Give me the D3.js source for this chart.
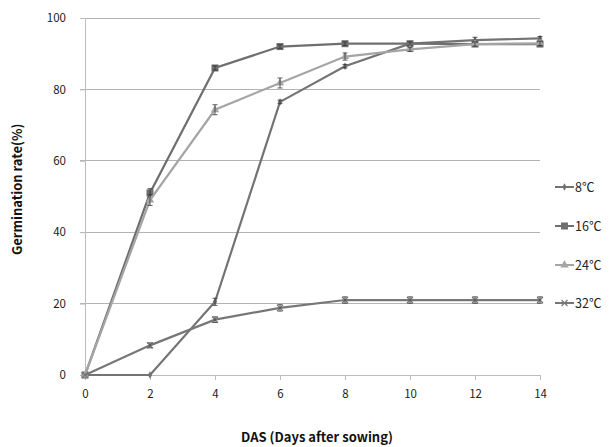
<!DOCTYPE html>
<html>
<head>
<meta charset="utf-8">
<script src="https://cdn.jsdelivr.net/npm/d3@7"></script>
<style>
  body { margin: 0; background: #fff; }
  text { font-family: "Noto Sans CJK KR", "Open Sans", sans-serif; }
</style>
</head>
<body>
<div id="wrapper"></div>
<script>
const days = [0, 2, 4, 6, 8, 10, 12, 14]
const seriesNames = ["8℃", "16℃", "24℃", "32℃"]
const t8 = [0, 0, 20.5, 76.5, 86.5, 92.8, 93.8, 94.3]
const t16 = [0, 51, 86, 92, 92.8, 92.8, 92.7, 92.7]
const t24 = [0, 49, 74.3, 81.8, 89.2, 91.2, 92.7, 92.9]
const t32 = [0, 8.3, 15.5, 18.8, 21, 21, 21, 21]
const e8 = [0, 0, 1, 0.5, 0.5, 0.5, 0.8, 0.5]
const e16 = [0, 1.2, 0.6, 0.5, 0.5, 0.5, 0.5, 0.5]
const e24 = [0, 1.5, 1.4, 1.4, 1, 0.6, 0.6, 0.6]
const e32 = [0, 0.7, 0.8, 0.9, 0.9, 0.9, 0.9, 0.9]
const yTicks = [0, 20, 40, 60, 80, 100]
const xTicks = [0, 2, 4, 6, 8, 10, 12, 14]

const series = [
  { name: seriesNames[0], values: t8, err: e8, color: "#737373", marker: "diamond" },
  { name: seriesNames[1], values: t16, err: e16, color: "#6f6f6f", marker: "square" },
  { name: seriesNames[2], values: t24, err: e24, color: "#a5a5a5", marker: "triangle" },
  { name: seriesNames[3], values: t32, err: e32, color: "#777777", marker: "x" },
]

const width = 612
const height = 447
const margin = { top: 18, left: 85, right: 72, bottom: 72 }

const svg = d3.select("#wrapper").append("svg").attr("width", width).attr("height", height)

const x = d3.scaleLinear().domain([0, 14]).range([margin.left, width - margin.right])
const y = d3.scaleLinear().domain([0, 100]).range([height - margin.bottom, margin.top])

// gridlines
svg.append("g").selectAll("line").data(yTicks.filter(d => d > 0)).enter().append("line")
  .attr("x1", margin.left - 5).attr("x2", x(14))
  .attr("y1", d => y(d)).attr("y2", d => y(d))
  .attr("stroke", "#b3b3b3").attr("stroke-width", 1).attr("shape-rendering", "crispEdges")

// y axis
const yAxis = svg.append("g").attr("transform", `translate(${margin.left},0)`)
  .call(d3.axisLeft(y).tickValues(yTicks).tickSize(5).tickPadding(14))
yAxis.select(".domain").attr("stroke", "#bdbdbd")
yAxis.selectAll(".tick line").attr("stroke", "#bdbdbd")
yAxis.selectAll("text").style("font-size", "11.5px").attr("fill", "#222")

// x axis
const xAxis = svg.append("g").attr("transform", `translate(0,${y(0)})`)
  .call(d3.axisBottom(x).tickValues(xTicks).tickSize(5).tickPadding(10).tickSizeOuter(0))
xAxis.select(".domain").attr("stroke", "#bdbdbd")
xAxis.selectAll(".tick line").attr("stroke", "#bdbdbd")
xAxis.selectAll("text").style("font-size", "11.5px").attr("fill", "#222")

// titles
svg.append("text").text("Germination rate(%)")
  .attr("transform", `translate(22,${y(52)}) rotate(-90)`)
  .attr("text-anchor", "middle").style("font-size", "13px").style("font-weight", "bold").attr("fill", "#111")
svg.append("text").text("DAS (Days after sowing)")
  .attr("x", 317).attr("y", 442)
  .attr("text-anchor", "middle").style("font-size", "13px").style("font-weight", "bold").attr("fill", "#111")

function drawMarker(g, type, cx, cy, color) {
  if (type === "diamond") {
    g.append("path").attr("d", d3.symbol(d3.symbolDiamond, 16)()).attr("transform", `translate(${cx},${cy})`).attr("fill", color)
  } else if (type === "square") {
    g.append("rect").attr("x", cx - 3.5).attr("y", cy - 3.5).attr("width", 7).attr("height", 7).attr("fill", color)
  } else if (type === "triangle") {
    g.append("path").attr("d", d3.symbol(d3.symbolTriangle, 30)()).attr("transform", `translate(${cx},${cy})`).attr("fill", color)
  } else {
    g.append("path").attr("d", `M${cx - 3},${cy - 3}L${cx + 3},${cy + 3}M${cx - 3},${cy + 3}L${cx + 3},${cy - 3}`)
      .attr("stroke", color).attr("stroke-width", 1.2)
  }
}

const line = d3.line().x((d, i) => x(days[i])).y(d => y(d))

series.forEach(s => {
  const g = svg.append("g")
  g.append("path").datum(s.values).attr("d", line)
    .attr("fill", "none").attr("stroke", s.color).attr("stroke-width", 2.2)
  s.values.forEach((v, i) => {
    drawMarker(g, s.marker, x(days[i]), y(v), s.color)
    if (s.err[i] > 0) {
      const cx = x(days[i])
      const y1 = y(v + s.err[i]), y2 = y(v - s.err[i])
      g.append("path").attr("d", `M${cx},${y1}V${y2}M${cx - 2.5},${y1}H${cx + 2.5}M${cx - 2.5},${y2}H${cx + 2.5}`)
        .attr("stroke", "#333").attr("stroke-width", 0.8).attr("fill", "none")
    }
  })
})

// legend
const legendY = [187, 226, 265, 303]
series.forEach((s, i) => {
  const g = svg.append("g")
  const ly = legendY[i]
  g.append("line").attr("x1", 555).attr("x2", 574).attr("y1", ly).attr("y2", ly)
    .attr("stroke", s.color).attr("stroke-width", 2)
  drawMarker(g, s.marker, 564.5, ly, s.color)
  g.append("text").text(s.name).attr("x", 575).attr("y", ly + 4.5)
    .style("font-size", "12.5px").attr("fill", "#222")
})
</script>
</body>
</html>
